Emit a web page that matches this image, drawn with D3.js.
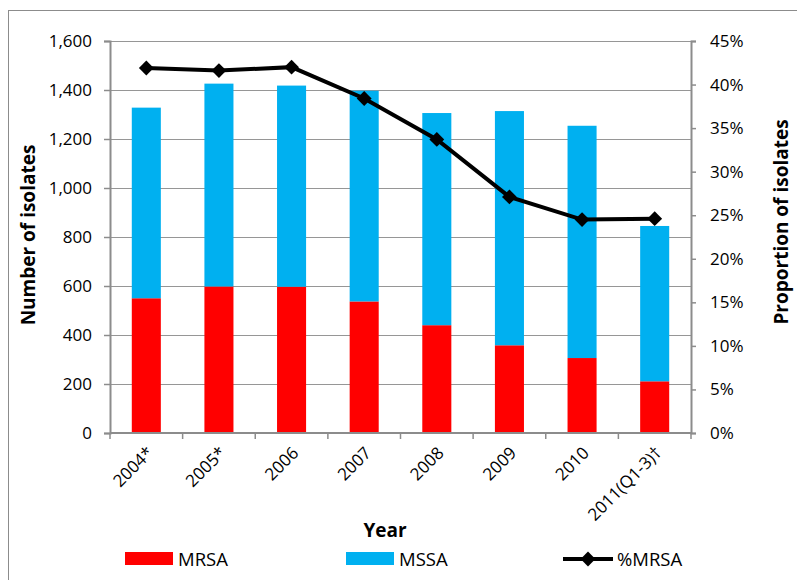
<!DOCTYPE html>
<html>
<head>
<meta charset="utf-8">
<script src="https://cdn.jsdelivr.net/npm/d3@7"></script>
<style>
  body { margin: 0; background: #fff; }
  text { font-family: "Open Sans", sans-serif; fill: #000; }
</style>
</head>
<body>
<svg id="chart" width="797" height="580"></svg>
<script>
// datos
var years = ["2004*", "2005*", "2006", "2007", "2008", "2009", "2010", "2011(Q1-3)\u2020"];
var mrsa = [550, 598, 597, 537, 440, 358, 306, 211];
var mssa = [778, 828, 821, 860, 866, 956, 948, 634];
var pctMrsa = [41.9, 41.6, 42.0, 38.4, 33.7, 27.1, 24.5, 24.6];
var countTicks = [0, 200, 400, 600, 800, 1000, 1200, 1400, 1600];
var pctTicks = [0, 5, 10, 15, 20, 25, 30, 35, 40, 45];

var svg = d3.select("#chart"),
    margin = {top: 41, right: 106, bottom: 147, left: 110},
    width = +svg.attr("width") - margin.left - margin.right,
    height = +svg.attr("height") - margin.top - margin.bottom,
    g = svg.append("g").attr("transform", "translate(" + margin.left + "," + margin.top + ")");

// marco exterior
svg.append("rect")
    .attr("x", 8.5).attr("y", 10.5)
    .attr("width", 820).attr("height", 600)
    .attr("fill", "none").attr("stroke", "#8c8c8c").attr("stroke-width", 1);

var x = d3.scaleBand().domain(years).range([0, width]).paddingInner(0.6).paddingOuter(0.3);
var y = d3.scaleLinear().domain([0, 1600]).range([height, 0]);
var y2 = d3.scaleLinear().domain([0, 45]).range([height, 0]);

// lineas de la cuadricula
g.selectAll(".grid")
    .data(countTicks.slice(1))
  .enter().append("line")
    .attr("x1", 0).attr("x2", width)
    .attr("y1", function(d) { return Math.round(y(d)) + 0.5; })
    .attr("y2", function(d) { return Math.round(y(d)) + 0.5; })
    .attr("stroke", "#969696").attr("stroke-width", 1.2);

// barras apiladas
var data = years.map(function(yr, i) { return {year: yr, mrsa: mrsa[i], mssa: mssa[i], pct: pctMrsa[i]}; });

g.selectAll(".mrsa")
    .data(data)
  .enter().append("rect")
    .attr("x", function(d) { return x(d.year); })
    .attr("y", function(d) { return y(d.mrsa); })
    .attr("width", x.bandwidth())
    .attr("height", function(d) { return height - y(d.mrsa); })
    .attr("fill", "#ff0000");

g.selectAll(".mssa")
    .data(data)
  .enter().append("rect")
    .attr("x", function(d) { return x(d.year); })
    .attr("y", function(d) { return y(d.mrsa + d.mssa); })
    .attr("width", x.bandwidth())
    .attr("height", function(d) { return y(d.mrsa) - y(d.mrsa + d.mssa); })
    .attr("fill", "#00b0f0");

// ejes
var axisColor = "#8c8c8c";
var yAxis = g.append("g")
    .call(d3.axisLeft(y).tickValues(countTicks).tickSize(6).tickPadding(12).tickFormat(d3.format(",")));
var y2Axis = g.append("g")
    .attr("transform", "translate(" + width + ",0)")
    .call(d3.axisRight(y2).tickValues(pctTicks).tickSize(5).tickPadding(14).tickFormat(function(d) { return d + "%"; }));

var xTicks = d3.range(years.length + 1).map(function(i) { return i * width / years.length; });
var xAxis = g.append("g").attr("transform", "translate(0," + height + ")");
xAxis.append("line").attr("x1", 0).attr("x2", width).attr("stroke", axisColor).attr("stroke-width", 2);
xAxis.selectAll(".xt")
    .data(xTicks)
  .enter().append("line")
    .attr("x1", function(d) { return d; }).attr("x2", function(d) { return d; })
    .attr("y1", 0).attr("y2", 6)
    .attr("stroke", axisColor).attr("stroke-width", 1.5);
xAxis.selectAll(".xl")
    .data(years)
  .enter().append("text")
    .attr("text-anchor", "end")
    .attr("font-size", 17)
    .attr("transform", function(d) { return "translate(" + (x(d) + x.bandwidth() / 2 + 8) + ",21) rotate(-45)"; })
    .text(function(d) { return d; });

[yAxis, y2Axis].forEach(function(a) {
  a.select(".domain").attr("stroke", axisColor).attr("stroke-width", 2);
  a.selectAll(".tick line").attr("stroke", axisColor).attr("stroke-width", 1.5);
  a.selectAll(".tick text").attr("font-size", 17).attr("font-family", "Open Sans");
});

// linea %MRSA
var line = d3.line()
    .x(function(d) { return x(d.year) + x.bandwidth() / 2; })
    .y(function(d) { return y2(d.pct); });
g.append("path")
    .datum(data)
    .attr("d", line)
    .attr("fill", "none").attr("stroke", "#000").attr("stroke-width", 4);
var diamond = d3.symbol().type(d3.symbolSquare).size(110);
g.selectAll(".pt")
    .data(data)
  .enter().append("path")
    .attr("d", diamond)
    .attr("transform", function(d) { return "translate(" + (x(d.year) + x.bandwidth() / 2) + "," + y2(d.pct) + ") rotate(45)"; })
    .attr("fill", "#000");

// titulos de ejes
svg.append("text")
    .attr("transform", "translate(35,235) rotate(-90)")
    .attr("text-anchor", "middle").attr("font-size", 19).attr("font-weight", "bold")
    .text("Number of isolates");
svg.append("text")
    .attr("transform", "translate(788,222) rotate(-90)")
    .attr("text-anchor", "middle").attr("font-size", 19).attr("font-weight", "bold")
    .text("Proportion of isolates");
svg.append("text")
    .attr("x", 385).attr("y", 537)
    .attr("text-anchor", "middle").attr("font-size", 19).attr("font-weight", "bold")
    .text("Year");

// leyenda
var legend = svg.append("g").attr("font-size", 18.5);
legend.append("rect").attr("x", 125).attr("y", 552).attr("width", 48).attr("height", 13).attr("fill", "#ff0000");
legend.append("text").attr("x", 178).attr("y", 566).text("MRSA");
legend.append("rect").attr("x", 346).attr("y", 552).attr("width", 48).attr("height", 13).attr("fill", "#00b0f0");
legend.append("text").attr("x", 399).attr("y", 566).text("MSSA");
legend.append("line").attr("x1", 563).attr("x2", 613).attr("y1", 559).attr("y2", 559).attr("stroke", "#000").attr("stroke-width", 4);
legend.append("path").attr("d", diamond).attr("transform", "translate(588,559) rotate(45)").attr("fill", "#000");
legend.append("text").attr("x", 617).attr("y", 566).text("%MRSA");
</script>
</body>
</html>
